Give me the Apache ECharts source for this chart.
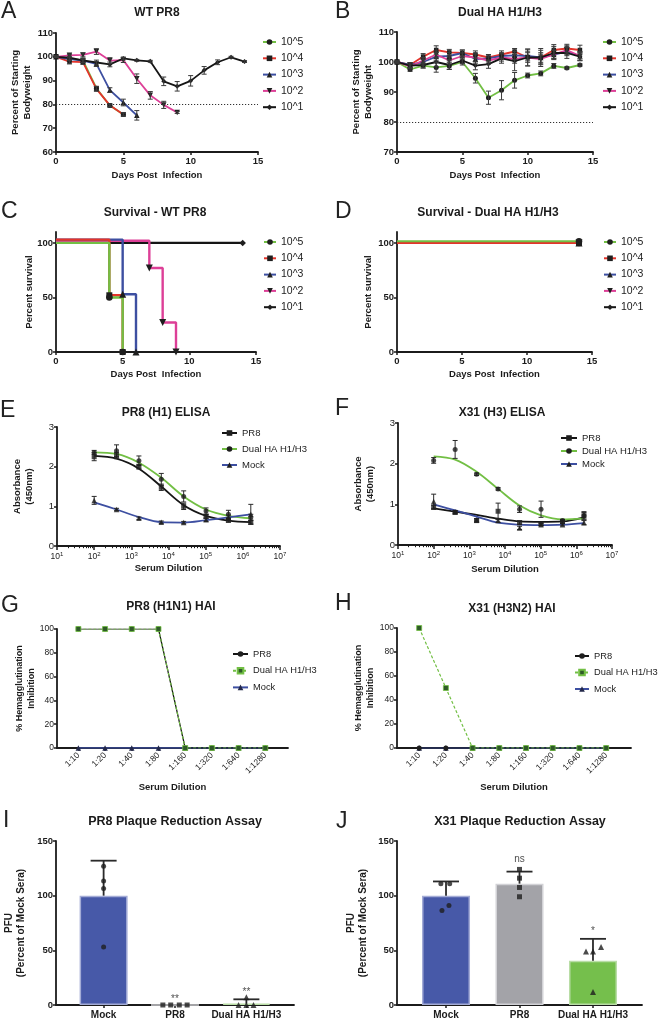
<!DOCTYPE html>
<html>
<head>
<meta charset="utf-8">
<script src="https://cdn.jsdelivr.net/npm/echarts@6/dist/echarts.min.js"></script>
<style>
html,body{margin:0;padding:0;background:#fff;}
#chart{width:660px;height:1020px;}
</style>
</head>
<body>
<div id="chart"></div>
<script>
// ================= DATA =================
const DAYS = [0,1,2,3,4,5,6,7,8,9,10,11,12,13,14];
const DOSES = ['10^5','10^4','10^3','10^2','10^1'];
const WEIGHT_THRESHOLD = 80;

// Panel A - WT PR8, % of starting bodyweight (mean) and SD
const A_W105 = [100, 99.2, 98.5, 86.8, 79.5, 75.8];
const A_W104 = [100, 98.0, 97.8, 86.5, 79.6, 75.8];
const A_W103 = [100, 99.0, 98.4, 97.0, 86.0, 80.8, 75.4];
const A_W102 = [100, 100.6, 100.8, 102.2, 98.4, 98.6, 90.8, 83.8, 79.8, 76.6];
const A_W101 = [100, 99.6, 98.5, 97.6, 96.8, 99.3, 98.5, 98.1, 89.7, 87.6, 89.9, 94.3, 97.7, 99.8, 98.0];
const A_SD105 = [0.3, 0.8, 0.8, 0.8, 0.6, 0.6];
const A_SD104 = [0.3, 1.0, 1.0, 1.0, 0.6, 0.8];
const A_SD103 = [0.3, 0.6, 0.8, 1.0, 1.0, 1.4, 2.0];
const A_SD102 = [0.3, 0.6, 0.8, 1.2, 1.2, 1.0, 2.0, 1.6, 1.5, 0.4];
const A_SD101 = [0.3, 1.2, 1.0, 1.0, 1.0, 0.6, 0.4, 0.4, 1.8, 2.0, 2.2, 1.6, 1.0, 0.4, 0.4];

// Panel B - Dual HA H1/H3
const B_W105 = [100, 97.5, 98.8, 98.2, 98.7, 100.0, 94.6, 88.1, 90.6, 93.9, 95.5, 96.2, 98.7, 98.0, 99.0];
const B_W104 = [100, 99.0, 101.8, 104.0, 103.2, 103.0, 102.5, 101.5, 102.5, 103.5, 101.5, 101.5, 104.0, 104.5, 104.0];
const B_W103 = [100, 99.0, 100.0, 101.8, 102.0, 103.0, 101.0, 101.2, 102.0, 102.2, 102.0, 101.5, 102.5, 103.5, 102.0];
const B_W102 = [100, 98.5, 100.5, 102.5, 100.5, 102.0, 101.5, 100.5, 101.5, 101.0, 101.5, 101.0, 102.5, 104.0, 102.0];
const B_W101 = [100, 98.8, 99.0, 100.0, 99.0, 100.5, 98.8, 99.3, 101.2, 100.3, 101.5, 101.5, 103.0, 103.0, 101.8];
const B_SD105 = [0.3, 0.6, 0.8, 1.6, 1.2, 1.0, 1.6, 2.2, 3.2, 2.6, 0.8, 0.8, 0.8, 0.4, 0.4];
const B_SD104 = [0.3, 0.8, 1.0, 1.4, 1.0, 1.0, 1.2, 1.0, 1.2, 1.0, 2.8, 3.0, 1.8, 1.4, 1.6];
const B_SD103 = [0.3, 0.8, 1.0, 1.4, 1.2, 1.0, 1.4, 1.2, 1.0, 1.4, 1.6, 1.6, 1.4, 1.4, 1.4];
const B_SD102 = [0.3, 0.8, 1.0, 1.2, 1.2, 1.0, 1.4, 1.2, 1.2, 1.4, 1.6, 1.6, 1.4, 1.4, 1.4];
const B_SD101 = [0.3, 1.0, 1.0, 1.6, 1.4, 1.0, 1.4, 1.4, 1.6, 3.2, 2.8, 2.4, 2.2, 1.8, 1.4];

// Panel C - survival WT PR8: [day, percent survival] step points
const C_S105 = [[0, 100], [4, 50], [5, 0]];
const C_S104 = [[0, 103], [4, 52], [5, 0]];
const C_S103 = [[0, 103], [5, 53], [6, 0]];
const C_S102 = [[0, 102], [7, 77], [8, 27], [9, 0]];
const C_S101 = [[0, 100], [14, 100]];

// Panel D - survival Dual HA H1/H3
const D_S105 = [[0, 101.5], [14, 101.5]];
const D_S104 = [[0, 100], [14, 100]];
const D_S103 = [[0, 100], [14, 100]];
const D_S102 = [[0, 100], [14, 100]];
const D_S101 = [[0, 100], [14, 100]];

// Panels E/F - ELISA, serum dilutions
const DILUTIONS = [100, 400, 1600, 6400, 25600, 102400, 409600, 1638400];
const E_PR8 = [2.25, 2.28, 2.00, 1.48, 1.00, 0.75, 0.65, 0.60];
const E_PR8_SD = [0.10, 0.08, 0.06, 0.08, 0.08, 0.05, 0.05, 0.05];
const E_PR8_FIT = [2.27, 2.20, 1.95, 1.50, 1.03, 0.76, 0.64, 0.60];
const E_DUAL = [2.36, 2.40, 2.15, 1.68, 1.25, 0.88, 0.80, 0.72];
const E_DUAL_SD = [0.05, 0.15, 0.12, 0.15, 0.14, 0.08, 0.10, 0.08];
const E_DUAL_FIT = [2.36, 2.32, 2.10, 1.72, 1.25, 0.92, 0.76, 0.70];
const E_MOCK = [1.15, 0.92, 0.70, 0.60, 0.59, 0.66, 0.72, 0.80];
const E_MOCK_SD = [0.10, 0.03, 0.03, 0.03, 0.03, 0.04, 0.06, 0.25];
const E_MOCK_FIT = [1.10, 0.92, 0.73, 0.60, 0.59, 0.65, 0.72, 0.80];

const F_PR8 = [0.93, 0.80, 0.60, 0.83, 0.55, 0.52, 0.57, 0.72];
const F_PR8_SD = [0.05, 0.03, 0.04, 0.20, 0.04, 0.04, 0.04, 0.08];
const F_PR8_FIT = [0.90, 0.82, 0.74, 0.65, 0.58, 0.57, 0.58, 0.68];
const F_DUAL = [2.08, 2.35, 1.74, 1.38, 0.88, 0.88, 0.60, 0.72];
const F_DUAL_SD = [0.07, 0.22, 0.03, 0.03, 0.08, 0.20, 0.03, 0.10];
const F_DUAL_FIT = [2.18, 2.10, 1.80, 1.38, 0.97, 0.73, 0.63, 0.65];
const F_MOCK = [1.07, 0.82, 0.62, 0.60, 0.42, 0.50, 0.50, 0.55];
const F_MOCK_SD = [0.18, 0.03, 0.03, 0.04, 0.04, 0.03, 0.03, 0.05];
const F_MOCK_FIT = [1.00, 0.85, 0.70, 0.55, 0.50, 0.49, 0.50, 0.54];

// Panels G/H - HAI
const HAI_CATS = ['1:10', '1:20', '1:40', '1:80', '1:160', '1:320', '1:640', '1:1280'];
const G_PR8 = [100, 100, 100, 100, 0, 0, 0, 0];
const G_DUAL = [100, 100, 100, 100, 0, 0, 0, 0];
const G_MOCK = [0, 0, 0, 0, 0, 0, 0, 0];
const H_PR8 = [0, 0, 0, 0, 0, 0, 0, 0];
const H_DUAL = [100, 50, 0, 0, 0, 0, 0, 0];
const H_MOCK = [0, 0, 0, 0, 0, 0, 0, 0];

// Panels I/J - plaque reduction
const PRA_CATS = ['Mock', 'PR8', 'Dual HA H1/H3'];
const I_MEAN = [100, 0, 1.3];
const I_SD = [32, 0, 3.9];
const I_PTS = [[127, 113.5, 106.5, 53], [0, 0, 0, 0], [0, 0, 0, 7]];
const I_SIG = ['', '**', '**'];
const I_SIG_Y = [null, 5, 11.5];
const J_MEAN = [100, 111, 40.5];
const J_SD = [13, 11, 20];
const J_PTS = [[111, 111, 91, 86.5], [124, 116, 107.5, 99], [49, 49, 53, 12]];
const J_SIG = ['', 'ns', '*'];
const J_SIG_Y = [null, 133, 67];

// ================= STYLE / LAYOUT =================
const FF = '"Liberation Sans", Arial, Helvetica, sans-serif';
const INK = '#1b1b1b';
const MARK = '#1e1e1e';
const GREEN = '#72bf44', RED = '#e3342b', BLUE = '#3d4fa1', PINK = '#dd3f97', BLACK = '#151515';
const DOSE_COL = [GREEN, RED, BLUE, PINK, BLACK];
const DOSE_SYM = ['circle', 'rect', 'triangle', 'triangle', 'diamond'];
const DOSE_ROT = [0, 0, 0, 180, 0];
const DOSE_SIZE = [5, 4.5, 5.5, 5.5, 5];
const BAR_COL = ['#4759a8', '#a3a3a8', '#75bf4c'];
const BAR_BORDER = ['#a4acd6', '#d2d2d6', '#b9dda6'];
const PT_SYM = ['circle', 'rect', 'triangle'];
const I_JIT = [[0, 0, 0, 0], [-0.17, -0.06, 0.06, 0.17], [-0.11, 0, 0.1, 0]];
const J_JIT = [[-0.07, 0.05, 0.04, -0.055], [0, 0, 0, 0], [-0.095, 0, 0.11, 0]];

const GRIDS = [
  {left: 56, top: 33, width: 202, height: 119},   // A
  {left: 397, top: 32, width: 196, height: 120},  // B
  {left: 56, top: 232, width: 200, height: 120},  // C
  {left: 397, top: 232, width: 195, height: 120}, // D
  {left: 57, top: 427, width: 223, height: 119},  // E
  {left: 398, top: 423, width: 214, height: 122}, // F
  {left: 57, top: 629, width: 231, height: 119},  // G
  {left: 397, top: 628, width: 234, height: 120}, // H
  {left: 56, top: 841, width: 238, height: 164},  // I
  {left: 397, top: 841, width: 245, height: 164}  // J
];

function mkAxis(o) {
  const a = {
    type: o.type || 'value', gridIndex: o.grid, position: o.position,
    min: o.min, max: o.max, silent: true,
    axisLine: {show: o.line !== false, onZero: false, lineStyle: {color: INK, width: 1.8}},
    axisTick: {show: true, inside: false, length: o.tickLen || 3, lineStyle: {color: INK, width: o.tickW || 1.5}},
    axisLabel: {show: o.labels !== false, color: INK, fontFamily: FF, fontSize: o.fontSize || 9.5,
      fontWeight: o.bold ? 'bold' : 'normal', margin: o.margin != null ? o.margin : 4, rotate: o.rotate || 0},
    splitLine: {show: false}, minorTick: {show: false}, minorSplitLine: {show: false},
    nameMoveOverlap: false
  };
  if (o.interval != null) a.interval = o.interval;
  if (o.splitNumber != null) a.splitNumber = o.splitNumber;
  if (o.logBase) a.logBase = o.logBase;
  if (o.custom) { a.axisLabel.customValues = o.custom; a.axisTick.customValues = o.custom; }
  if (o.tickCustom) a.axisTick.customValues = o.tickCustom;
  if (o.formatter) a.axisLabel.formatter = o.formatter;
  if (o.rich) a.axisLabel.rich = o.rich;
  if (o.name) {
    a.name = o.name; a.nameLocation = 'middle'; a.nameGap = o.nameGap; a.nameRotate = o.nameRotate || 0;
    a.nameTextStyle = {fontFamily: FF, fontSize: o.nameSize || 9.5, fontWeight: 'bold', color: INK, lineHeight: o.nameLH || 11.5};
  }
  return a;
}

const logFmt = v => '{b|10}{s|' + Math.round(Math.log10(v)) + '}';
const logRich = {
  b: {fontSize: 8.5, fontFamily: FF, color: INK},
  s: {fontSize: 6, fontFamily: FF, color: INK, padding: [0, 0, 5, 0]}
};
const MINOR_EXP = [];
for (let d = 1; d < 7; d++) for (let m = 2; m <= 9; m++) MINOR_EXP.push(d + Math.log10(m));

const dayName = 'Days Post  Infection';
const xAxes = [
  mkAxis({grid: 0, min: 0, max: 15, interval: 5, bold: true, margin: 4, name: dayName, nameGap: 18}),
  mkAxis({grid: 1, min: 0, max: 15, interval: 5, bold: true, margin: 4, name: dayName, nameGap: 18}),
  mkAxis({grid: 2, min: 0, max: 15, interval: 5, bold: true, margin: 4, name: dayName, nameGap: 17}),
  mkAxis({grid: 3, min: 0, max: 15, interval: 5, bold: true, margin: 4, name: dayName, nameGap: 17}),
  mkAxis({grid: 4, type: 'log', logBase: 10, min: 10, max: 1e7, splitNumber: 6, formatter: logFmt, rich: logRich, margin: 5, tickLen: 4, position: 'bottom', name: 'Serum Dilution', nameGap: 17}),
  mkAxis({grid: 5, type: 'log', logBase: 10, min: 10, max: 1e7, splitNumber: 6, formatter: logFmt, rich: logRich, margin: 5, tickLen: 4, position: 'bottom', name: 'Serum Dilution', nameGap: 19}),
  mkAxis({grid: 6, min: -0.8, max: 7.85, custom: [0, 1, 2, 3, 4, 5, 6, 7], formatter: v => HAI_CATS[Math.round(v)], rotate: 45, fontSize: 8.5, margin: 6, name: 'Serum Dilution', nameGap: 34}),
  mkAxis({grid: 7, min: -0.83, max: 7.93, custom: [0, 1, 2, 3, 4, 5, 6, 7], formatter: v => HAI_CATS[Math.round(v)], rotate: 45, fontSize: 8.5, margin: 6, name: 'Serum Dilution', nameGap: 34}),
  mkAxis({grid: 8, min: -0.667, max: 2.667, custom: [0, 1, 2], formatter: v => PRA_CATS[Math.round(v)], bold: true, fontSize: 10, margin: 5}),
  mkAxis({grid: 9, min: -0.667, max: 2.667, custom: [0, 1, 2], formatter: v => PRA_CATS[Math.round(v)], bold: true, fontSize: 10, margin: 5}),
  mkAxis({grid: 4, min: 1, max: 7, line: false, labels: false, tickCustom: MINOR_EXP, tickLen: 2.2, tickW: 1, position: 'bottom'}),
  mkAxis({grid: 5, min: 1, max: 7, line: false, labels: false, tickCustom: MINOR_EXP, tickLen: 2.2, tickW: 1, position: 'bottom'})
];

const bwName = 'Percent of Starting\nBodyweight';
const absName = 'Absorbance\n(450nm)';
const haiName = '% Hemagglutination\nInhibition';
const pfuName = 'PFU\n(Percent of Mock Sera)';
const yAxes = [
  mkAxis({grid: 0, min: 60, max: 110, interval: 10, bold: true, margin: 3, name: bwName, nameGap: 23, nameRotate: 90}),
  mkAxis({grid: 1, min: 70, max: 110, interval: 10, bold: true, margin: 3, name: bwName, nameGap: 23, nameRotate: 90}),
  mkAxis({grid: 2, min: 0, max: 110, custom: [0, 50, 100], bold: true, margin: 3, name: 'Percent survival', nameGap: 21, nameRotate: 90}),
  mkAxis({grid: 3, min: 0, max: 110, custom: [0, 50, 100], bold: true, margin: 3, name: 'Percent survival', nameGap: 23, nameRotate: 90}),
  mkAxis({grid: 4, min: 0, max: 3, interval: 1, margin: 3, name: absName, nameGap: 22, nameRotate: 90}),
  mkAxis({grid: 5, min: 0, max: 3, interval: 1, margin: 3, name: absName, nameGap: 22, nameRotate: 90}),
  mkAxis({grid: 6, min: 0, max: 100, interval: 20, margin: 3, fontSize: 8.5, name: haiName, nameGap: 20, nameRotate: 90, nameSize: 9}),
  mkAxis({grid: 7, min: 0, max: 100, interval: 20, margin: 3, fontSize: 8.5, name: haiName, nameGap: 21, nameRotate: 90, nameSize: 9}),
  mkAxis({grid: 8, min: 0, max: 150, interval: 50, bold: true, margin: 3, name: pfuName, nameGap: 29, nameRotate: 90, nameSize: 10, nameLH: 12}),
  mkAxis({grid: 9, min: 0, max: 150, interval: 50, bold: true, margin: 3, name: pfuName, nameGap: 28, nameRotate: 90, nameSize: 10, nameLH: 12})
];

function errSeries(name, xi, yi, data, cap, color, lw, upperOnly) {
  return {
    type: 'custom', name, xAxisIndex: xi, yAxisIndex: yi, silent: true, z: 4,
    data, encode: {x: 0, y: [1, 2]},
    renderItem: (params, api) => {
      const x = api.value(0), lo = api.value(1), hi = api.value(2);
      const p = api.coord([x, lo]), q = api.coord([x, hi]);
      const st = {stroke: color, lineWidth: lw};
      const ch = [
        {type: 'line', shape: {x1: p[0], y1: p[1], x2: q[0], y2: q[1]}, style: st},
        {type: 'line', shape: {x1: q[0] - cap / 2, y1: q[1], x2: q[0] + cap / 2, y2: q[1]}, style: st}
      ];
      if (!upperOnly) ch.push({type: 'line', shape: {x1: p[0] - cap / 2, y1: p[1], x2: p[0] + cap / 2, y2: p[1]}, style: st});
      return {type: 'group', children: ch};
    }
  };
}

const series = [];

// ---- A & B weight curves ----
function weightPanel(prefix, gi, means, sds) {
  DOSES.forEach((d, k) => {
    const s = {
      type: 'line', name: prefix + '|' + d, xAxisIndex: gi, yAxisIndex: gi, silent: true,
      data: means[k].map((v, i) => [DAYS[i], v]),
      symbol: DOSE_SYM[k], symbolRotate: DOSE_ROT[k], symbolSize: DOSE_SIZE[k], showSymbol: true,
      lineStyle: {color: DOSE_COL[k], width: 1.8}, itemStyle: {color: MARK}, z: 3
    };
    if (k === 4) {
      s.markLine = {silent: true, symbol: 'none', label: {show: false},
        lineStyle: {type: [1.2, 1.8], color: '#333', width: 1}, data: [{yAxis: WEIGHT_THRESHOLD}]};
    }
    series.push(s);
    series.push(errSeries(prefix + '|err' + k, gi, gi,
      means[k].map((v, i) => [DAYS[i], v - sds[k][i], v + sds[k][i]]), 5, '#3a3a3a', 1));
  });
}
weightPanel('A', 0, [A_W105, A_W104, A_W103, A_W102, A_W101], [A_SD105, A_SD104, A_SD103, A_SD102, A_SD101]);
weightPanel('B', 1, [B_W105, B_W104, B_W103, B_W102, B_W101], [B_SD105, B_SD104, B_SD103, B_SD102, B_SD101]);

// ---- C & D survival ----
function survPanel(prefix, gi, curves, lw) {
  for (let k = 4; k >= 0; k--) {
    series.push({
      type: 'line', name: prefix + '|' + DOSES[k], xAxisIndex: gi, yAxisIndex: gi, silent: true, step: 'end',
      data: curves[k].map((p, i) => i === 0 ? {value: p, symbol: 'none'} : p),
      symbol: DOSE_SYM[k], symbolRotate: DOSE_ROT[k], symbolSize: DOSE_SIZE[k] + 1.5,
      lineStyle: {color: DOSE_COL[k], width: lw}, itemStyle: {color: MARK}, z: 3
    });
  }
}
survPanel('C', 2, [C_S105, C_S104, C_S103, C_S102, C_S101], 2.4);
survPanel('D', 3, [D_S105, D_S104, D_S103, D_S102, D_S101], 2);

// ---- E & F ELISA ----
function elisaPanel(prefix, gi, groups) {
  groups.forEach(g => {
    series.push({
      type: 'line', name: prefix + '|' + g.key, xAxisIndex: gi, yAxisIndex: gi, silent: true,
      data: DILUTIONS.map((d, i) => [d, g.fit[i]]), smooth: 0.35, showSymbol: false,
      symbol: g.sym, symbolSize: 5, lineStyle: {color: g.col, width: 1.8}, itemStyle: {color: MARK}, z: 2
    });
    series.push({
      type: 'scatter', name: prefix + '|pts' + g.key, xAxisIndex: gi, yAxisIndex: gi, silent: true,
      data: DILUTIONS.map((d, i) => [d, g.m[i]]), symbol: g.sym, symbolSize: g.sym === 'triangle' ? 5.5 : 5,
      itemStyle: {color: MARK}, z: 5
    });
    series.push(errSeries(prefix + '|err' + g.key, gi, gi,
      DILUTIONS.map((d, i) => [d, g.m[i] - g.sd[i], g.m[i] + g.sd[i]]), 5, '#2a2a2a', 1));
  });
}
elisaPanel('E', 4, [
  {key: 'PR8', m: E_PR8, sd: E_PR8_SD, fit: E_PR8_FIT, col: BLACK, sym: 'rect'},
  {key: 'Dual HA H1/H3', m: E_DUAL, sd: E_DUAL_SD, fit: E_DUAL_FIT, col: GREEN, sym: 'circle'},
  {key: 'Mock', m: E_MOCK, sd: E_MOCK_SD, fit: E_MOCK_FIT, col: BLUE, sym: 'triangle'}
]);
elisaPanel('F', 5, [
  {key: 'PR8', m: F_PR8, sd: F_PR8_SD, fit: F_PR8_FIT, col: BLACK, sym: 'rect'},
  {key: 'Dual HA H1/H3', m: F_DUAL, sd: F_DUAL_SD, fit: F_DUAL_FIT, col: GREEN, sym: 'circle'},
  {key: 'Mock', m: F_MOCK, sd: F_MOCK_SD, fit: F_MOCK_FIT, col: BLUE, sym: 'triangle'}
]);

// ---- G & H HAI ----
function haiPanel(prefix, gi, pr8, dual, mock) {
  const idx = HAI_CATS.map((c, i) => i);
  series.push({type: 'line', name: prefix + '|Mock', xAxisIndex: gi, yAxisIndex: gi, silent: true,
    data: idx.map(i => [i, mock[i]]), symbol: 'triangle', symbolSize: 5.5,
    lineStyle: {color: BLUE, width: 1.4}, itemStyle: {color: '#23284a'}, z: 3});
  series.push({type: 'line', name: prefix + '|PR8', xAxisIndex: gi, yAxisIndex: gi, silent: true,
    data: idx.map(i => [i, pr8[i]]), symbol: 'circle', symbolSize: 5,
    lineStyle: {color: BLACK, width: 1.2}, itemStyle: {color: MARK}, z: 3});
  series.push({type: 'line', name: prefix + '|Dual HA H1/H3', xAxisIndex: gi, yAxisIndex: gi, silent: true,
    data: idx.map(i => [i, dual[i]]), symbol: 'rect', symbolSize: 5,
    lineStyle: {color: GREEN, width: 1.2, type: [3, 2]}, itemStyle: {color: '#2f5a28', borderColor: GREEN, borderWidth: 0.8}, z: 4});
}
haiPanel('G', 6, G_PR8, G_DUAL, G_MOCK);
haiPanel('H', 7, H_PR8, H_DUAL, H_MOCK);

// ---- I & J plaque reduction ----
function praPanel(prefix, gi, means, sds, pts, jit, sig, sigY) {
  series.push({
    type: 'bar', name: prefix + '|bars', xAxisIndex: gi, yAxisIndex: gi, silent: true, barWidth: 48,
    data: means.map((v, i) => ({value: [i, v], itemStyle: {color: BAR_COL[i], borderColor: BAR_BORDER[i], borderWidth: 1.5}})),
    z: 2
  });
  series.push(errSeries(prefix + '|err', gi, gi,
    means.map((v, i) => [i, v, v + sds[i]]).filter((d, i) => sds[i] > 0), 26, '#2a2a2a', 1.8, true));
  pts.forEach((grp, i) => {
    series.push({
      type: 'scatter', name: prefix + '|pts' + i, xAxisIndex: gi, yAxisIndex: gi, silent: true,
      data: grp.map((v, j) => [i + jit[i][j], v]), symbol: PT_SYM[i], symbolSize: i === 2 ? 6 : 5,
      itemStyle: {color: MARK}, z: 5
    });
  });
  series.push({
    type: 'scatter', name: prefix + '|sig', xAxisIndex: gi, yAxisIndex: gi, silent: true,
    data: sig.map((t, i) => [i, sigY[i], t]).filter(d => d[2]),
    symbolSize: 1, itemStyle: {color: 'transparent'},
    label: {show: true, position: 'inside', formatter: p => p.value[2], color: INK, fontFamily: FF, fontSize: 10,
      fontWeight: 'normal'}, z: 6
  });
}
praPanel('I', 8, I_MEAN, I_SD, I_PTS, I_JIT, I_SIG, I_SIG_Y);
praPanel('J', 9, J_MEAN, J_SD, J_PTS, J_JIT, J_SIG, J_SIG_Y);

// ---- legends ----
function mkLegend(prefix, names, left, top, itemWidth, gap, fontSize) {
  return {
    data: names.map(n => prefix + '|' + n), orient: 'vertical', left, top, padding: 0,
    itemWidth, itemHeight: 7, itemGap: gap, selectedMode: false,
    formatter: n => n.split('|')[1],
    textStyle: {fontFamily: FF, fontSize, color: INK, lineHeight: 12}
  };
}
const ELISA_NAMES = ['PR8', 'Dual HA H1/H3', 'Mock'];
const legends = [
  mkLegend('A', DOSES, 262, 36, 13, 4.3, 10.5),
  mkLegend('B', DOSES, 602, 36, 13, 4.3, 10.5),
  mkLegend('C', DOSES, 263, 236, 12, 4.3, 10.5),
  mkLegend('D', DOSES, 603, 236, 12, 4.3, 10.5),
  mkLegend('E', ELISA_NAMES, 221, 427, 15, 4, 9.5),
  mkLegend('F', ELISA_NAMES, 560, 432, 16, 1, 9.5),
  mkLegend('G', ELISA_NAMES, 232, 648, 15, 4.7, 9.3),
  mkLegend('H', ELISA_NAMES, 574, 650, 14, 4.5, 9.3)
];

// ---- titles and panel letters ----
const TITLES = [
  ['WT PR8', 157, 13], ['Dual HA H1/H3', 500, 13],
  ['Survival - WT PR8', 155, 213], ['Survival - Dual HA H1/H3', 488, 213],
  ['PR8 (H1) ELISA', 166, 413], ['X31 (H3) ELISA', 502, 413],
  ['PR8 (H1N1) HAI', 171, 607], ['X31 (H3N2) HAI', 512, 609],
  ['PR8 Plaque Reduction Assay', 175, 822], ['X31 Plaque Reduction Assay', 520, 822]
];
const LETTERS = [
  ['A', 1, 12], ['B', 335, 12], ['C', 1, 212], ['D', 335, 212], ['E', 0, 411],
  ['F', 335, 409], ['G', 1, 606], ['H', 335, 604], ['I', 3, 821], ['J', 336, 822]
];
const graphics = [];
TITLES.forEach(([t, x, y], i) => graphics.push({type: 'text', x, y, silent: true,
  style: {text: t, font: 'bold ' + (i >= 8 ? 12.5 : 12) + 'px ' + FF, fill: INK, align: 'center', verticalAlign: 'middle'}}));
LETTERS.forEach(([t, x, y]) => graphics.push({type: 'text', x, y, silent: true,
  style: {text: t, font: '23px ' + FF, fill: '#222', align: 'left', verticalAlign: 'middle'}}));

const chart = echarts.init(document.getElementById('chart'), null, {renderer: 'canvas'});
chart.setOption({
  backgroundColor: '#ffffff',
  animation: false,
  textStyle: {fontFamily: FF},
  grid: GRIDS.map(g => Object.assign({containLabel: false, outerBoundsMode: 'none'}, g)),
  xAxis: xAxes,
  yAxis: yAxes,
  legend: legends,
  graphic: graphics,
  series
});
</script>
</body>
</html>
